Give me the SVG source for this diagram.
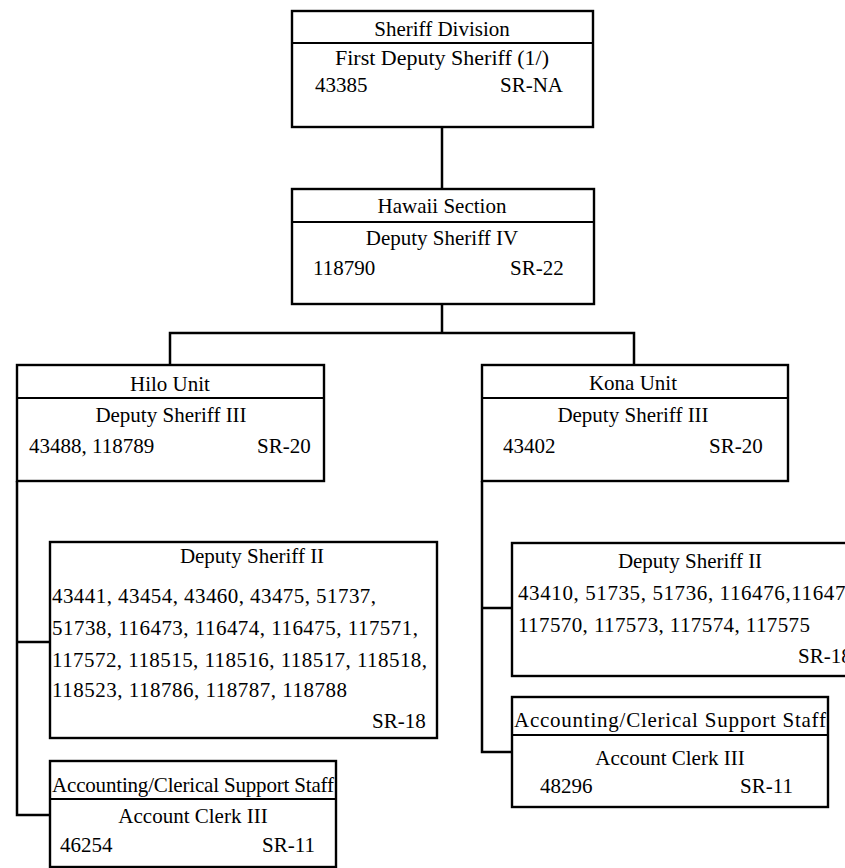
<svg xmlns="http://www.w3.org/2000/svg" width="845" height="868" viewBox="0 0 845 868">
<style>
.box{fill:#fff;stroke:#000;stroke-width:2.4}
.dv{stroke:#000;stroke-width:2.2}
.conn{fill:none;stroke:#000;stroke-width:2.5}
text{font-family:"Liberation Serif","Times New Roman",serif;font-size:21px;fill:#000}
.c{text-anchor:middle}
</style>
<rect width="845" height="868" fill="#fff"/>
<g id="connectors" class="conn">
<path d="M442 127 V189"/>
<path d="M442 304 V333 M170 365 V333 H634 V365"/>
<path d="M17 481 V815 H50 M17 642 H50"/>
<path d="M482 481 V752 H512 M482 608 H512"/>
</g>
<g id="sheriff-division">
<rect class="box" x="292" y="11" width="301" height="116"/>
<line class="dv" x1="292" y1="43" x2="593" y2="43"/>
<text class="c" x="442" y="36">Sheriff Division</text>
<text class="c" x="442" y="65" style="font-size:22px">First Deputy Sheriff (1/)</text>
<text x="315" y="92">43385</text>
<text x="500" y="92">SR-NA</text>
</g>
<g id="hawaii-section">
<rect class="box" x="292" y="189" width="302" height="115"/>
<line class="dv" x1="292" y1="222" x2="594" y2="222"/>
<text class="c" x="442" y="213">Hawaii Section</text>
<text class="c" x="442" y="245">Deputy Sheriff IV</text>
<text x="313" y="275">118790</text>
<text x="510" y="275">SR-22</text>
</g>
<g id="hilo-unit">
<rect class="box" x="17" y="365" width="307" height="116"/>
<line class="dv" x1="17" y1="398" x2="324" y2="398"/>
<text class="c" x="170" y="391">Hilo Unit</text>
<text class="c" x="171" y="422">Deputy Sheriff III</text>
<text x="29" y="453">43488, 118789</text>
<text x="257" y="453">SR-20</text>
</g>
<g id="kona-unit">
<rect class="box" x="482" y="365" width="306" height="116"/>
<line class="dv" x1="482" y1="398" x2="788" y2="398"/>
<text class="c" x="633" y="390">Kona Unit</text>
<text class="c" x="633" y="422">Deputy Sheriff III</text>
<text x="503" y="453">43402</text>
<text x="709" y="453">SR-20</text>
</g>
<g id="hilo-deputy-sheriff-ii">
<rect class="box" x="50" y="542" width="387" height="196"/>
<text class="c" x="252" y="563">Deputy Sheriff II</text>
<text x="52" y="603" textLength="324">43441, 43454, 43460, 43475, 51737,</text>
<text x="52" y="635" textLength="366">51738, 116473, 116474, 116475, 117571,</text>
<text x="52" y="667" textLength="375">117572, 118515, 118516, 118517, 118518,</text>
<text x="52" y="697" textLength="295">118523, 118786, 118787, 118788</text>
<text x="372" y="728">SR-18</text>
</g>
<g id="kona-deputy-sheriff-ii">
<rect class="box" x="512" y="543" width="360" height="133"/>
<text class="c" x="690" y="568">Deputy Sheriff II</text>
<text x="518" y="600" letter-spacing="0.6">43410, 51735, 51736, 116476,116477,</text>
<text x="518" y="632" letter-spacing="0.4">117570, 117573, 117574, 117575</text>
<text x="798" y="663">SR-18</text>
</g>
<g id="kona-account-clerk">
<rect class="box" x="512" y="697" width="316" height="110"/>
<line class="dv" x1="512" y1="735" x2="828" y2="735"/>
<text x="514" y="727" textLength="312">Accounting/Clerical Support Staff</text>
<text class="c" x="670" y="765">Account Clerk III</text>
<text x="540" y="793">48296</text>
<text x="740" y="793">SR-11</text>
</g>
<g id="hilo-account-clerk">
<rect class="box" x="50" y="761" width="286" height="106"/>
<line class="dv" x1="50" y1="799" x2="336" y2="799"/>
<text x="52" y="792" textLength="282">Accounting/Clerical Support Staff</text>
<text class="c" x="193" y="823">Account Clerk III</text>
<text x="60" y="852">46254</text>
<text x="262" y="852">SR-11</text>
</g>
</svg>
